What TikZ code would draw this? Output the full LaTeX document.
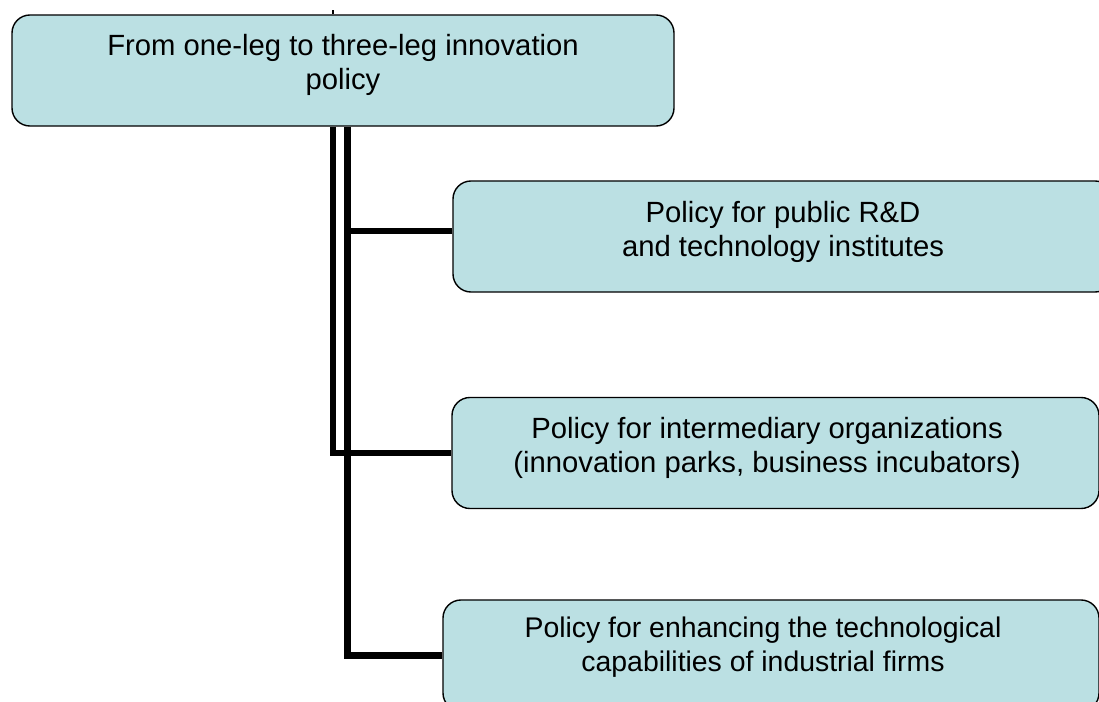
\documentclass[tikz,border=0pt]{standalone}
\usepackage{fontspec}
\setmainfont{Liberation Sans}
\usetikzlibrary{calc,backgrounds}
\definecolor{boxfill}{RGB}{187,224,227}
\begin{document}
\begin{tikzpicture}[x=0.025cm,y=-0.025cm,
  box/.style={draw=black, line width=1pt, fill=boxfill, rounded corners=0.45cm,
    minimum width=#1*0.025cm, minimum height=2.775cm, inner sep=0pt},
  boxtext/.style={align=center, inner sep=0pt,
    font=\fontsize{20.8pt}{24.2pt}\selectfont},
  conn/.style={line width=4.6pt}]
\clip (0,0) rectangle (1099,702);

% boxes
\node[box=662] (top) at (343,70.5) {};
\node[box=660] (b1) at (783,236.5) {};
\node[box=647] (b2) at (775.5,453) {};
\node[box=656] (b3) at (771,655.5) {};

% texts
\node[boxtext] (toptext) at (343,64.5) {From one-leg to three-leg innovation\\policy};
\node[boxtext] (b1text) at (783,231.5) {Policy for public R\&D\\and technology institutes};
\node[boxtext] (b2text) at (767,447.5) {Policy for intermediary organizations\\(innovation parks, business incubators)};
\node[boxtext, font=\fontsize{20.2pt}{24.2pt}\selectfont] (b3text) at (763,647.5) {Policy for enhancing the technological\\capabilities of industrial firms};

% connectors behind the boxes
\begin{scope}[on background layer]
  \coordinate (lj) at ($(top.south)+(-10,0)$);
  \coordinate (rj) at ($(top.south)+(4.5,0)$);
  \draw[line width=2pt] ($(top.north)+(-10,0)$) -- ++(0,-4);
  \draw[conn] (lj) |- (b2.west);
  \draw[conn] (rj) |- (b3.west);
  \draw[conn] ($(b1.west)+(0,-5.5)$) coordinate (b1in) -- (b1in -| rj);
\end{scope}
\end{tikzpicture}
\end{document}
